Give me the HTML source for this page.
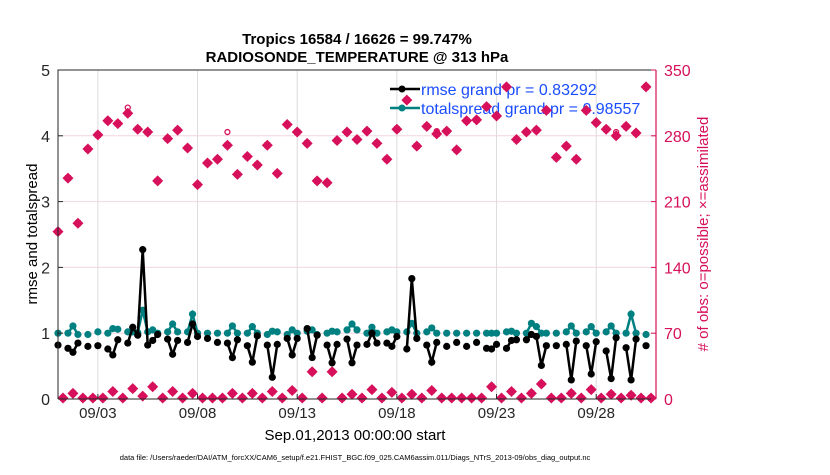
<!DOCTYPE html>
<html><head><meta charset="utf-8"><style>
body{margin:0;background:#fff;width:830px;height:470px;overflow:hidden;font-family:"Liberation Sans",sans-serif}
</style></head><body>
<svg id="chart" width="830" height="470" xmlns="http://www.w3.org/2000/svg" font-family="Liberation Sans, sans-serif">
<rect width="830" height="470" fill="#fff"/>
<text x="357" y="44" text-anchor="middle" font-size="15" font-weight="bold">Tropics 16584 / 16626 = 99.747%</text>
<text x="357" y="62" text-anchor="middle" font-size="15" font-weight="bold">RADIOSONDE_TEMPERATURE @ 313 hPa</text>
<g id="grid"></g>
<g id="legend">
 <line x1="390" y1="89" x2="420" y2="89" stroke="#000" stroke-width="2.5"/><circle cx="402" cy="89" r="3.5" fill="#000"/>
 <text x="421" y="95" font-size="16" fill="#1a4dff">rmse grand pr = 0.83292</text>
 <line x1="390" y1="108" x2="420" y2="108" stroke="#008080" stroke-width="2.5"/><circle cx="402" cy="108" r="3.5" fill="#008080"/>
 <text x="421" y="114" font-size="16" fill="#1a4dff">totalspread grand pr = 0.98557</text>
</g>
<g id="series"></g>
<g id="axes"></g>
<text transform="translate(37,234) rotate(-90)" text-anchor="middle" font-size="15">rmse and totalspread</text>
<text transform="translate(708,234) rotate(-90)" text-anchor="middle" font-size="15" fill="#d6105a"># of obs: o=possible; ×=assimilated</text>
<text x="355" y="440" text-anchor="middle" font-size="15">Sep.01,2013 00:00:00 start</text>
<text x="355" y="460" text-anchor="middle" font-size="7.5">data file: /Users/raeder/DAI/ATM_forcXX/CAM6_setup/f.e21.FHIST_BGC.f09_025.CAM6assim.011/Diags_NTrS_2013-09/obs_diag_output.nc</text>
</svg>
<script>
// time index k in 6-hour steps from Sep 01 00Z
const rmseK=[0,2,3,4,6,8,10,11,12,14,15,16,17,18,19,20,22,23,24,26,27,28,30,32,34,35,36,38,39,40,42,43,44,46,47,48,50,51,52,54,55,56,58,59,60,62,63,64,66,67,68,70,71,72,74,75,76,78,80,82,84,86,87,88,90,91,92,94,95,96,97,98,100,102,103,104,106,107,108,110,111,112,114,115,116,118];
const rmseV=[0.82,0.77,0.71,0.85,0.80,0.81,0.76,0.67,0.90,0.85,1.09,0.97,2.27,0.82,0.89,0.98,0.91,0.68,0.89,0.86,1.14,0.95,0.92,0.86,0.85,0.63,0.90,0.81,0.56,0.96,0.82,0.33,0.83,0.92,0.67,0.92,1.07,0.63,0.97,0.82,0.55,0.83,0.91,0.55,0.82,0.83,1.00,0.85,0.85,0.80,0.95,0.76,1.83,0.92,0.82,0.56,0.86,0.80,0.86,0.80,0.86,0.77,0.76,0.83,0.77,0.89,0.90,0.90,0.98,0.95,0.51,0.81,0.81,0.83,0.29,0.88,0.81,0.38,0.87,0.73,0.31,0.93,0.78,0.29,0.91,0.81];
const spreadV=[1.0,1.0,1.11,0.98,0.98,1.02,1.0,1.07,1.06,1.02,1.02,1.01,1.35,1.02,1.05,1.0,1.02,1.14,1.02,1.02,1.29,1.0,1.0,1.0,1.0,1.11,1.0,1.0,1.10,1.0,0.98,1.03,1.02,0.98,1.05,1.0,1.03,1.05,0.98,1.0,1.03,1.02,1.05,1.14,1.05,1.0,1.09,1.0,1.02,1.05,1.02,1.02,1.15,1.0,1.02,1.08,1.0,1.0,1.0,1.0,1.0,1.0,1.0,1.0,1.02,1.03,1.0,1.0,1.15,1.1,1.0,1.0,1.0,1.02,1.11,1.0,1.02,1.10,1.0,1.02,1.11,1.0,1.0,1.29,1.0,0.98];
const topK=[0,2,4,6,8,10,12,14,16,18,20,22,24,26,28,30,32,34,36,38,40,42,44,46,48,50,52,54,56,58,60,62,64,66,68,70,72,74,76,78,80,82,84,86,88,90,92,94,96,98,100,102,104,106,108,110,112,114,116,118];
const assimTop=[178,235,187,266,281,296,293,304,287,284,232,277,286,267,228,251,255,270,239,258,249,270,240,292,284,272,232,230,275,284,276,285,272,255,287,318,269,290,282,285,265,296,297,311,301,332,276,284,286,307,257,269,255,307,294,287,280,290,283,332];
const possTop=[178,235,187,266,281,296,293,310,287,284,232,277,286,267,228,251,255,284,239,258,249,270,240,292,284,272,232,230,275,284,276,285,272,255,287,318,269,290,285,285,265,296,297,311,301,332,276,284,286,307,257,269,255,307,294,287,284,290,283,332];
const botK=[1,3,5,7,9,11,13,15,17,19,21,23,25,27,29,31,33,35,37,39,41,43,45,47,49,51,53,55,57,59,61,63,65,67,69,71,73,75,77,79,81,83,85,87,89,91,93,95,97,99,101,103,105,107,109,111,113,115,117,119];
const assimBot=[1,6,1,1,1,8,1,11,3,13,1,8,1,6,1,1,1,6,1,6,1,8,1,9,1,29,1,29,1,5,1,10,1,7,1,5,1,9,1,1,1,1,1,13,1,8,1,6,16,1,1,6,1,10,1,5,1,4,1,1];
const xTicks=[8,28,48,68,88,108];
const xTickLabels=["09/03","09/08","09/13","09/18","09/23","09/28"];
const yTicks=[0,1,2,3,4,5];
const y2Ticks=[0,70,140,210,280,350];

const X0=58,X1=656,Y0=399,Y1=70,KMAX=120;
const xs=k=>X0+k*(X1-X0)/KMAX;
const yl=v=>Y0-v*(Y0-Y1)/5;
const yr=c=>Y0-c*(Y0-Y1)/350;
const NS="http://www.w3.org/2000/svg";
function mk(t,a,p){const e=document.createElementNS(NS,t);for(const k in a)e.setAttribute(k,a[k]);p.appendChild(e);return e;}
const grid=document.getElementById('grid'),ser=document.getElementById('series'),ax=document.getElementById('axes');
xTicks.forEach(k=>{const l=mk('line',{x1:xs(k),x2:xs(k),y1:Y1,y2:Y0,stroke:'#dcdcdc','stroke-width':1},grid);

});
y2Ticks.slice(1,5).forEach(c=>{const l=mk('line',{x1:X0,x2:X1,y1:yr(c),y2:yr(c),stroke:'#f2d6e0','stroke-width':1},grid);

});
// count markers
function star(cx,cy,name){const g=mk('g',{},ser);


mk('path',{d:`M${cx} ${cy-5.5}L${cx+5.5} ${cy}L${cx} ${cy+5.5}L${cx-5.5} ${cy}Z`,fill:'#d6105a'},g);
mk('rect',{x:cx-3,y:cy-3,width:6,height:6,fill:'#d6105a'},g);}
topK.forEach((k,i)=>{if(possTop[i]!==assimTop[i]){const c=mk('circle',{cx:xs(k),cy:yr(possTop[i]),r:2.5,fill:'none',stroke:'#d6105a','stroke-width':1.3},ser);

}
star(xs(k),yr(assimTop[i]),'assimilated-obs-marker');});
botK.forEach((k,i)=>star(xs(k),yr(assimBot[i]),'assimilated-obs-marker'));
// lines (connect only consecutive 6-hourly times)
function line(vals,col,name){let d='';let prev=-9;rmseK.forEach((k,i)=>{d+=(k-prev===1?'L':'M')+xs(k)+' '+yl(vals[i]);prev=k;});
const p=mk('path',{d:d,fill:'none',stroke:col,'stroke-width':2.5},ser);


rmseK.forEach((k,i)=>{const c=mk('circle',{cx:xs(k),cy:yl(vals[i]),r:3.6,fill:col},ser);

});}
line(spreadV,'#008080','totalspread');
line(rmseV,'#000','rmse');
// axes
const fr=mk('path',{d:`M${X0} ${Y0}L${X0} ${Y1}L${X1} ${Y1}`,fill:'none',stroke:'#262626','stroke-width':1},ax);


const bx=mk('line',{x1:X0,x2:X1,y1:Y0,y2:Y0,stroke:'#262626','stroke-width':1},ax);


const ra=mk('line',{x1:X1,x2:X1,y1:Y1,y2:Y0,stroke:'#d6105a','stroke-width':1.2},ax);


xTicks.forEach((k,i)=>{mk('line',{x1:xs(k),x2:xs(k),y1:Y0,y2:Y0-5,stroke:'#262626'},ax);
const t=mk('text',{x:xs(k),y:Y0+19,'text-anchor':'middle','font-size':15,fill:'#262626'},ax);t.textContent=xTickLabels[i];

});
yTicks.forEach(v=>{mk('line',{x1:X0,x2:X0+5,y1:yl(v),y2:yl(v),stroke:'#262626'},ax);
const t=mk('text',{x:X0-8,y:yl(v)+6,'text-anchor':'end','font-size':16,fill:'#262626'},ax);t.textContent=v;

});
y2Ticks.forEach(c=>{mk('line',{x1:X1,x2:X1-5,y1:yr(c),y2:yr(c),stroke:'#d6105a'},ax);
const t=mk('text',{x:X1+8,y:yr(c)+6,'font-size':16,fill:'#d6105a'},ax);t.textContent=c;

});
</script>
</body></html>
